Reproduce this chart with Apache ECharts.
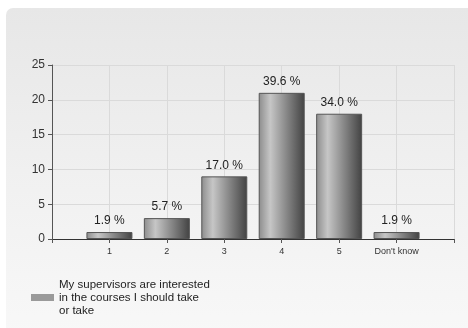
<!DOCTYPE html>
<html>
<head>
<meta charset="utf-8">
<script src="https://cdn.jsdelivr.net/npm/echarts@6/dist/echarts.min.js"></script>
<style>
  html, body { margin: 0; padding: 0; background: #ffffff; }
  #chart { width: 468px; height: 328px; }
</style>
</head>
<body>
<div id="chart"></div>
<script>
// Survey answers: how many respondents picked each option
const categories = ['1', '2', '3', '4', '5', "Don't know"];
const counts = [1, 3, 9, 21, 18, 1];
const percentLabels = ['1.9 %', '5.7 %', '17.0 %', '39.6 %', '34.0 %', '1.9 %'];
const seriesName = 'My supervisors are interested\nin the courses I should take\nor take';
const yTicks = [0, 5, 10, 15, 20, 25];

// Pad the axis with an empty slot on both ends so bars sit on the grid lines
const axisCats = [''].concat(categories, ['']);
const barData = [null].concat(counts, [null]);
const labelData = [''].concat(percentLabels, ['']);

const chart = echarts.init(document.getElementById('chart'), null, { renderer: 'canvas' });

const barGradient = new echarts.graphic.LinearGradient(0, 0, 1, 0, [
  { offset: 0, color: '#8c8c8c' },
  { offset: 0.25, color: '#c6c6c6' },
  { offset: 0.6, color: '#888888' },
  { offset: 1, color: '#424242' }
]);

chart.setOption({
  animation: false,
  textStyle: { fontFamily: 'Liberation Sans, Arial, sans-serif' },
  graphic: [{
    type: 'rect',
    z: -10,
    silent: true,
    shape: { x: 6, y: 8, width: 470, height: 330, r: [7, 0, 0, 0] },
    style: {
      fill: new echarts.graphic.LinearGradient(0, 0, 0, 1, [
        { offset: 0, color: '#e7e7e7' },
        { offset: 0.55, color: '#f1f1f1' },
        { offset: 1, color: '#f8f8f8' }
      ])
    }
  }],
  grid: { left: 52, right: 14, top: 65, bottom: 89, containLabel: false },
  legend: {
    left: 31,
    top: 278,
    padding: 0,
    orient: 'vertical',
    icon: 'rect',
    itemWidth: 23,
    itemHeight: 7,
    textStyle: { fontSize: 11.5, color: '#222', lineHeight: 13, fontFamily: 'Liberation Sans, Arial, sans-serif' },
    data: [{ name: seriesName, itemStyle: { color: '#9a9a9a', borderWidth: 0 } }]
  },
  xAxis: {
    type: 'category',
    data: axisCats,
    boundaryGap: false,
    axisLine: { lineStyle: { color: '#333', width: 1 } },
    axisTick: { show: true, length: 4, lineStyle: { color: '#555' } },
    axisLabel: { fontSize: 9, color: '#333', margin: 8, interval: 0 },
    splitLine: { show: true, lineStyle: { color: '#dadada', width: 1 } }
  },
  yAxis: {
    type: 'value',
    min: yTicks[0],
    max: yTicks[yTicks.length - 1],
    interval: 5,
    axisLine: { show: true, lineStyle: { color: '#555', width: 1 } },
    axisTick: { show: true, length: 4, lineStyle: { color: '#555' } },
    axisLabel: { fontSize: 12, color: '#333', margin: 7 },
    splitLine: { show: true, lineStyle: { color: '#dadada', width: 1 } }
  },
  series: [{
    name: seriesName,
    type: 'bar',
    data: barData,
    barWidth: 46,
    itemStyle: { color: barGradient, borderColor: '#555', borderWidth: 1 },
    label: {
      show: true,
      position: 'top',
      distance: 5,
      fontSize: 12,
      color: '#222',
      formatter: function (p) { return labelData[p.dataIndex]; }
    }
  }]
});
</script>
</body>
</html>
